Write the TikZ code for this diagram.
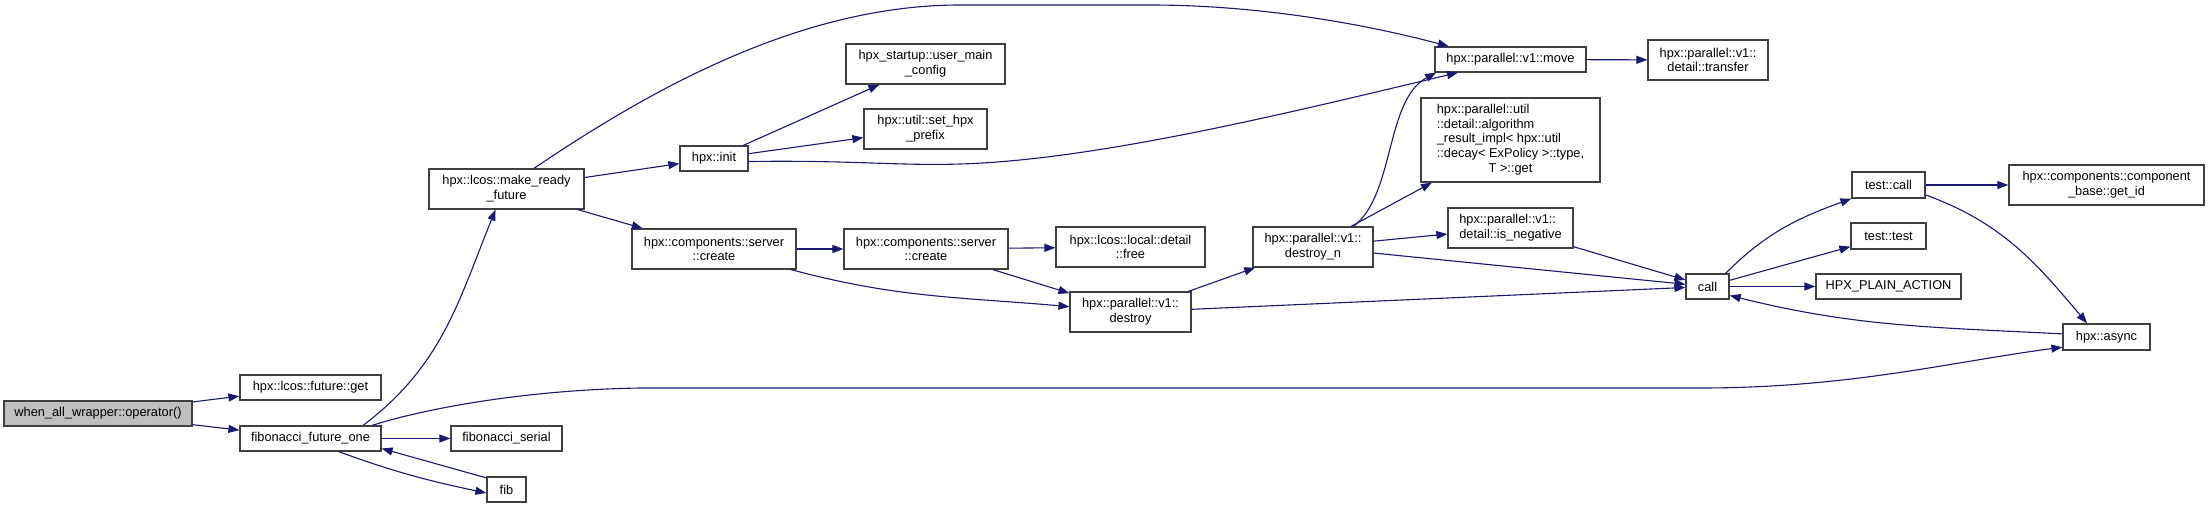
\documentclass[tikz,border=0pt]{standalone}
\usepackage{fontspec}
\setmainfont{Liberation Sans}
\usepackage{tikz}
\usetikzlibrary{arrows.meta}
\definecolor{EdgeBlue}{HTML}{191970}
\definecolor{Frame}{HTML}{404040}
\definecolor{RootGray}{HTML}{BFBFBF}
\tikzset{
  fbox/.style={draw=Frame,line width=1.2pt,fill=white,inner sep=0pt,align=center,text=black,minimum height=25pt},
  fboxroot/.style={fbox,fill=RootGray},
  callarrow/.style={-{Triangle[length=11pt,width=8pt,fill=EdgeBlue]},line width=1.1pt,draw=EdgeBlue}
}

\begin{document}
\begin{tikzpicture}[x=1pt,y=-1pt,font=\fontsize{12.8}{14.8}\selectfont]
  \fill[white] (0,0) rectangle (2209,508);
  \useasboundingbox (0,0) rectangle (2209,508);
  % functions
  \node[fboxroot,minimum width=188pt] (whenall) at (98,413.5) {when\_all\_wrapper::operator()};
  \node[fbox,minimum width=141pt] (futget) at (310.5,387.5) {hpx::lcos::future::get};
  \node[fbox,minimum width=141pt] (fibone) at (310.5,438.5) {fibonacci\_future\_one};
  \node[fbox,minimum width=111pt] (fibserial) at (506.5,438.5) {fibonacci\_serial};
  \node[fbox,minimum width=39pt] (fib) at (506.5,489.5) {fib};
  \node[fbox,minimum width=155pt,minimum height=40pt] (mkready) at (506.5,189) {hpx::lcos::make\_ready\\\_future};
  \node[fbox,minimum width=68pt] (hpxinit) at (714,158.5) {hpx::init};
  \node[fbox,minimum width=159pt,minimum height=40pt] (usermain) at (925.5,64) {hpx\_startup::user\_main\\\_config};
  \node[fbox,minimum width=123pt,minimum height=40pt] (setprefix) at (925.5,129) {hpx::util::set\_hpx\\\_prefix};
  \node[fbox,minimum width=164pt,minimum height=40pt] (srvcreate) at (714,249) {hpx::components::server\\::create};
  \node[fbox,minimum width=164pt,minimum height=40pt] (srvcreateb) at (926,249) {hpx::components::server\\::create};
  \node[fbox,minimum width=149pt,minimum height=40pt] (lcosfree) at (1130.5,247) {hpx::lcos::local::detail\\::free};
  \node[fbox,minimum width=121pt,minimum height=40pt] (destroy) at (1130.5,312) {hpx::parallel::v1::\\destroy};
  \node[fbox,minimum width=120pt,minimum height=40pt] (destroyn) at (1313,247) {hpx::parallel::v1::\\destroy\_n};
  \node[fbox,minimum width=151pt] (pmove) at (1510.5,59.5) {hpx::parallel::v1::move};
  \node[fbox,minimum width=120pt,minimum height=40pt] (transfer) at (1708,60) {hpx::parallel::v1::\\detail::transfer};
  \node[fbox,minimum width=179pt,minimum height=84pt] (algres) at (1510.5,140)
    {\begin{tabular}{@{}l@{}}hpx::parallel::util\\::detail::algorithm\\\_result\_impl< hpx::util\\::decay< ExPolicy >::type,\\\multicolumn{1}{@{}c@{}}{T >::get}\end{tabular}};
  \node[fbox,minimum width=125pt,minimum height=40pt,align=left] (isneg) at (1510.5,228) {hpx::parallel::v1::\\detail::is\_negative};
  \node[fbox,minimum width=43pt] (call) at (1707.5,286.5) {call};
  \node[fbox,minimum width=73pt,minimum height=26pt] (testcall) at (1888.5,185) {test::call};
  \node[fbox,minimum width=75pt,minimum height=26pt] (testtest) at (1888.5,236) {test::test};
  \node[fbox,minimum width=145pt] (plainaction) at (1888.5,286.5) {HPX\_PLAIN\_ACTION};
  \node[fbox,minimum width=195pt,minimum height=40pt] (getid) at (2106.5,185) {hpx::components::component\\\_base::get\_id};
  \node[fbox,minimum width=87pt,minimum height=26pt] (async) at (2106.5,337) {hpx::async};
  % calls
  \draw[callarrow] (whenall) -- (futget);
  \draw[callarrow] (whenall) -- (fibone);
  \draw[callarrow] (fibone.14) to[out=37,in=248] (mkready.242);
  \draw[callarrow] (fibone.12) .. controls (420,410) and (520,390) .. (640,388) -- (1700,388)
    .. controls (1850,388) and (1950,362) .. (async.193);
  \draw[callarrow] (fibone) -- (fibserial);
  \draw[callarrow] (fibone.335) to[out=-20,in=168] (fib.190);
  \draw[callarrow] (fib.150) -- (fibone.352);
  \draw[callarrow] (mkready.37) .. controls (650,90) and (800,5) .. (960,5) -- (1150,5)
    .. controls (1270,5) and (1380,28) .. (pmove.168);
  \draw[callarrow] (mkready) -- (hpxinit);
  \draw[callarrow] (mkready) -- (srvcreate);
  \draw[callarrow] (hpxinit) -- (usermain);
  \draw[callarrow] (hpxinit) -- (setprefix);
  \draw[callarrow] (hpxinit.355) .. controls (850,160) and (900,166) .. (960,164)
    .. controls (1100,160) and (1300,110) .. (pmove.194);
  \draw[callarrow] (srvcreate) -- (srvcreateb);
  \draw[callarrow] (srvcreate.345) to[out=-15,in=175] (destroy.175);
  \draw[callarrow] (srvcreateb) -- (lcosfree);
  \draw[callarrow] (srvcreateb) -- (destroy);
  \draw[callarrow] (destroy) -- (destroyn);
  \draw[callarrow] (destroy) -- (call);
  \draw[callarrow] (destroyn.27) .. controls (1395,195) and (1385,100) .. (pmove.190);
  \draw[callarrow] (destroyn) -- (algres);
  \draw[callarrow] (destroyn) -- (isneg);
  \draw[callarrow] (destroyn) -- (call);
  \draw[callarrow] (isneg) -- (call);
  \draw[callarrow] (pmove) -- (transfer);
  \draw[callarrow] (call.36) to[out=45,in=200] (testcall.south west);
  \draw[callarrow] (call) -- (testtest);
  \draw[callarrow] (call) -- (plainaction);
  \draw[callarrow] (testcall) -- (getid);
  \draw[callarrow] (testcall.345) to[out=-20,in=130] (async.145);
  \draw[callarrow] (async.176) to[out=177,in=-14] (call.338);
\end{tikzpicture}
\end{document}
